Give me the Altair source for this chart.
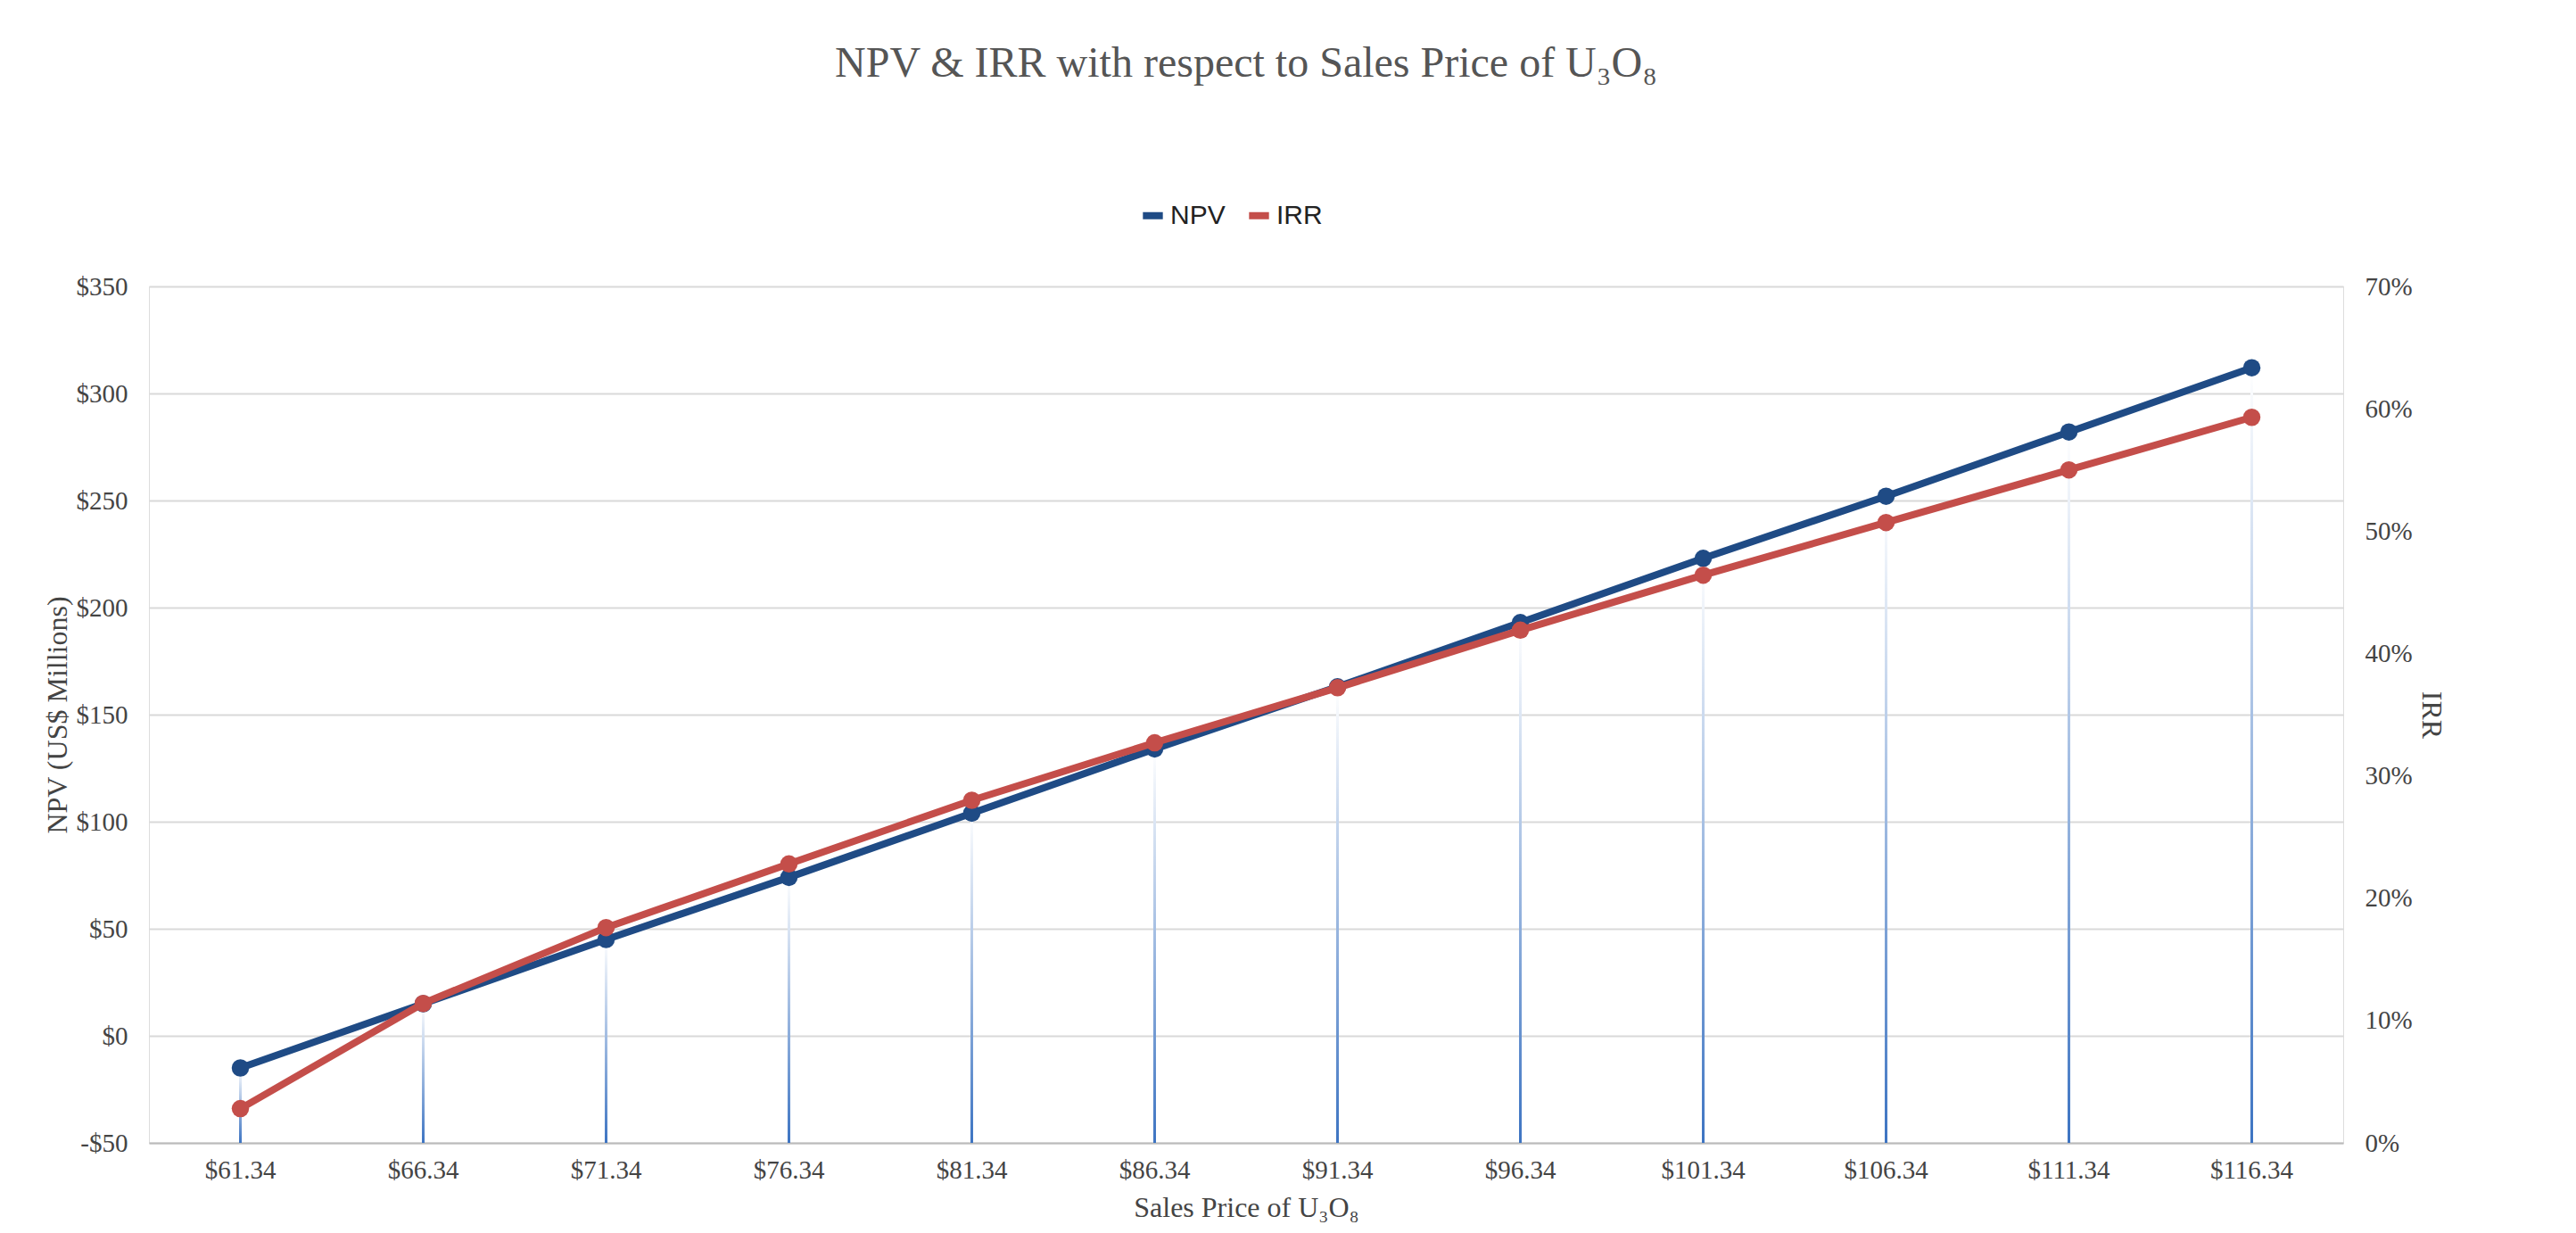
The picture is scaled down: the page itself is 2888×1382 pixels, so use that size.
import altair as alt
import pandas as pd

prices = ["$61.34", "$66.34", "$71.34", "$76.34", "$81.34", "$86.34",
          "$91.34", "$96.34", "$101.34", "$106.34", "$111.34", "$116.34"]
npv = [-15, 15, 45, 74, 104, 134, 163, 193, 223, 252, 282, 312]
irr = [0.028, 0.114, 0.176, 0.228, 0.280, 0.327, 0.372, 0.419, 0.464, 0.507, 0.550, 0.593]

df_npv = pd.DataFrame({"price": prices, "value": npv, "series": "NPV", "base": -50})
df_irr = pd.DataFrame({"price": prices, "value": irr, "series": "IRR"})

serif = "Liberation Serif"
color = alt.Color("series:N", scale=alt.Scale(domain=["NPV", "IRR"], range=["#1F4B85", "#C44E4A"]),
                  legend=alt.Legend(title=None, orient="none", legendX=1110, legendY=-95, direction="horizontal",
                                    labelFont="Liberation Sans", labelFontSize=30, symbolSize=500,
                                    symbolStrokeWidth=8, symbolType="stroke", labelColor="#222"))
x = alt.X("price:N", sort=prices, title="Sales Price of U₃O₈",
          axis=alt.Axis(labelAngle=0, labelFont=serif, labelFontSize=29, labelColor="#444",
                        titleFont=serif, titleFontSize=32, titleFontWeight="normal", titleColor="#444",
                        domainColor="#bbb", domainWidth=2, ticks=False, labelPadding=16, titlePadding=12))

yleft = alt.Scale(domain=[-50, 350])
drops = alt.Chart(df_npv).mark_bar(size=3, color=alt.Gradient(
    gradient="linear", x1=1, x2=1, y1=0, y2=1,
    stops=[alt.GradientStop(color="#ffffff", offset=0), alt.GradientStop(color="#3d74c2", offset=1)])
).encode(x=x, y=alt.Y("base:Q", scale=yleft), y2="value:Q")

npv_line = alt.Chart(df_npv).mark_line(strokeWidth=8, point=alt.OverlayMarkDef(size=380, filled=True)).encode(
    x=x,
    y=alt.Y("value:Q", scale=yleft, title="NPV (US$ Millions)",
            axis=alt.Axis(values=list(range(-50, 351, 50)), labelExpr="datum.value < 0 ? '-$' + abs(datum.value) : '$' + datum.value",
                          labelFont=serif, labelFontSize=29, labelColor="#444", domain=False, ticks=False,
                          gridColor="#d9d9d9", gridWidth=2, labelPadding=24,
                          titleFont=serif, titleFontSize=32, titleFontWeight="normal", titleColor="#444")),
    color=color)
left = alt.layer(drops, npv_line)

irr_line = alt.Chart(df_irr).mark_line(strokeWidth=8, point=alt.OverlayMarkDef(size=380, filled=True)).encode(
    x=x,
    y=alt.Y("value:Q", scale=alt.Scale(domain=[0, 0.7]), title="IRR",
            axis=alt.Axis(orient="right", format=".0%", values=[i / 10 for i in range(8)], grid=False,
                          labelFont=serif, labelFontSize=29, labelColor="#444", domain=False, ticks=False,
                          labelPadding=24, titleFont=serif, titleFontSize=32, titleFontWeight="normal",
                          titleColor="#444")),
    color=color)

chart = alt.layer(left, irr_line).resolve_scale(y="independent").properties(
    width=2460, height=960,
    title=alt.TitleParams("NPV & IRR with respect to Sales Price of U₃O₈", font=serif, fontSize=48,
                          fontWeight="normal", color="#555", offset=130),
).configure_view(stroke=None).configure(background="white", padding={"left": 40, "right": 40, "top": 40, "bottom": 20})

chart.save("out.html", embed_options={"renderer": "svg", "actions": False})
